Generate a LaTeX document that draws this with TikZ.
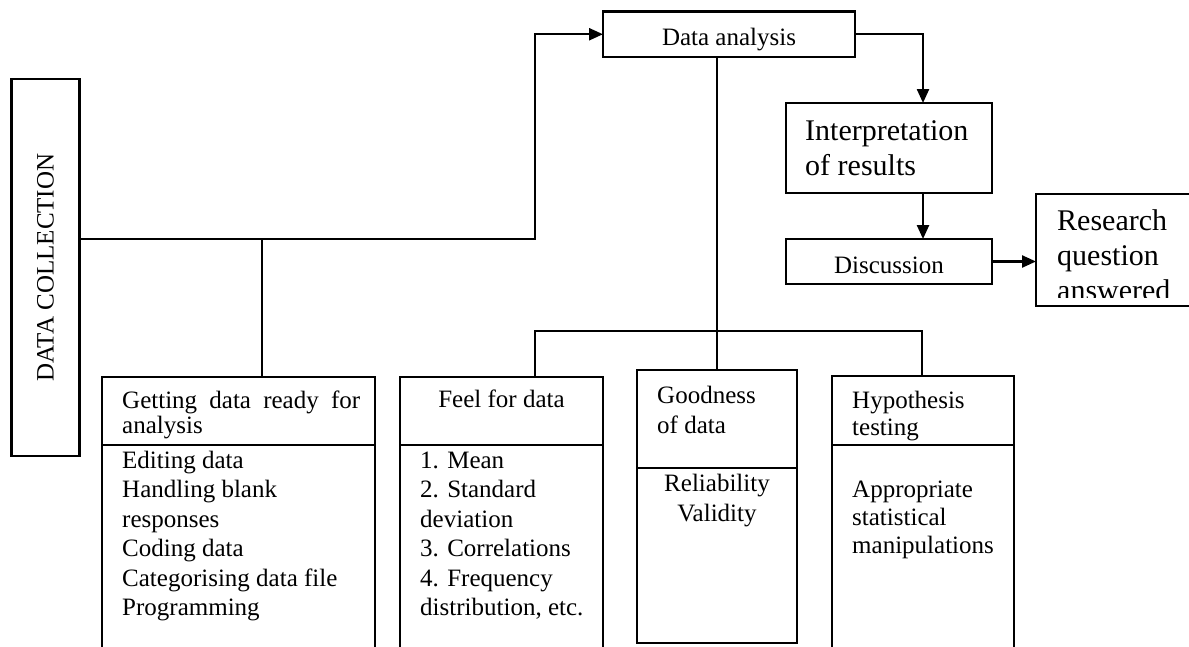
\documentclass[tikz,border=0pt]{standalone}
\usepackage{fontspec}
\setmainfont{Liberation Serif}
\usetikzlibrary{arrows.meta,fit}
\tikzset{
  box/.style={draw, line width=2.4pt, inner sep=0pt, outer sep=0pt},
  line/.style={line width=2.4pt},
  arr/.style={line width=2.4pt, -{Triangle[length=14pt,width=12pt]}},
  txt/.style={inner sep=0pt, anchor=base west, font=\fontsize{25}{30}\selectfont},
  ctxt/.style={inner sep=0pt, anchor=base, font=\fontsize{25}{30}\selectfont},
  big/.style={inner sep=0pt, anchor=base west, font=\fontsize{30}{35}\selectfont}
}
\begin{document}
\begin{tikzpicture}[x=1pt,y=-1pt]
\clip (0,0) rectangle (1189,646);
\fill[white] (0,0) rectangle (1189,646);
% boxes
\node[box, fit={(11.5,79) (79.5,456)}] (dc) {};
\node[box, fit={(603,11.5) (855,57)}] (da) {};
\node[box, fit={(786,103) (992,193)}] (ir) {};
\node[box, fit={(786,239) (992,284)}] (ds) {};
\node[box, fit={(1036,194) (1205,306)}] (rq) {};
\node[box, fit={(102,377) (375,700)}] (gd) {};
\node[box, fit={(400,377) (603,700)}] (ff) {};
\node[box, fit={(637,370) (797,643)}] (gn) {};
\node[box, fit={(832,376) (1014,700)}] (hy) {};
% dividers
\draw[line] (gd.west |- 0,445) -- (gd.east |- 0,445);
\draw[line] (ff.west |- 0,445) -- (ff.east |- 0,445);
\draw[line] (gn.west |- 0,468) -- (gn.east |- 0,468);
\draw[line] (hy.west |- 0,445) -- (hy.east |- 0,445);
% connector points
\coordinate (j1) at (262,239);
\coordinate (c1) at (535,239);
\coordinate (b1) at (535,331);
\coordinate (b2) at (922,331);
\coordinate (kx) at (923,0);
% connectors
\draw[arr] (dc.east |- j1) -- (c1) |- (da.west);
\draw[line] (j1) -- (j1 |- gd.north);
\draw[line] (da.south -| gn.north) -- (gn.north);
\draw[line] (ff.north -| b1) -- (b1) -- (b2) -- (b2 |- hy.north);
\draw[arr] (da.east) -| (ir.north -| kx);
\draw[arr] (ir.south -| kx) -- (ds.north -| kx);
\draw[arr] (ds.east) -- (rq.west |- ds.east);
% texts
\node[inner sep=0pt, rotate=90, font=\fontsize{25}{30}\selectfont] (dct) at (dc.center) {DATA COLLECTION};
\node[ctxt] (dat) at (729,45) {Data analysis};
\node[big] (ir1) at (805,140) {Interpretation};
\node[big] (ir2) at (805,175) {of results};
\node[ctxt] (dst) at (889,273) {Discussion};
\begin{scope}
\clip (1036,194) rectangle (1189,297);
\node[big] (rq1) at (1057,230) {Research};
\node[big] (rq2) at (1057,265) {question};
\node[big] (rq3) at (1057,300) {answered};
\end{scope}
\node[txt] (gh1) at (122,408) {\makebox[238pt][s]{Getting data ready for}};
\node[txt] (gh2) at (122,433) {analysis};
\foreach \t [count=\i] in {Editing data, Handling blank, responses, Coding data, Categorising data file, Programming}
  \node[txt] (gb\i) at (122,{468+29.5*(\i-1)}) {\t};
\node[ctxt] (fh) at (501.5,407) {Feel for data};
\foreach \t [count=\i] in {1. Mean, 2. Standard, deviation, 3. Correlations, 4. Frequency, {distribution, etc.}}
  \node[txt] (fb\i) at (420,{468+29.5*(\i-1)}) {\t};
\node[txt] (gn1) at (657,403) {Goodness};
\node[txt] (gn2) at (657,433) {of data};
\node[ctxt] (gb1x) at (717,491) {Reliability};
\node[ctxt] (gb2x) at (717,521) {Validity};
\node[txt] (hy1) at (852,408) {Hypothesis};
\node[txt] (hy2) at (852,435) {testing};
\node[txt] (hb1) at (852,497) {Appropriate};
\node[txt] (hb2) at (852,525) {statistical};
\node[txt] (hb3) at (852,553) {manipulations};
\end{tikzpicture}
\end{document}
